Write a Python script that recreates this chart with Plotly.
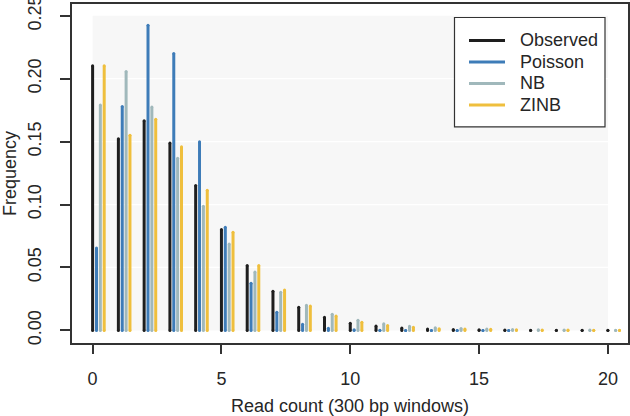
import plotly.graph_objects as go

counts = list(range(21))
observed = [0.2102, 0.1523, 0.1666, 0.1488, 0.1152, 0.0801, 0.0515, 0.0311, 0.0184, 0.0105,
            0.0057, 0.0035, 0.0020, 0.0012, 0.0008, 0.0005, 0.0003, 0.0002, 0.0001, 0.0001, 0.0001]
poisson = [0.0655, 0.1779, 0.2425, 0.2200, 0.1499, 0.0819, 0.0375, 0.0144, 0.0049, 0.0017,
           0.0005, 0.0001, 0.0, 0.0, 0.0, 0.0, 0.0, None, None, None, None]
nb = [0.1790, 0.2057, 0.1774, 0.1367, 0.0986, 0.0686, 0.0464, 0.0303, 0.0200, 0.0128,
      0.0081, 0.0052, 0.0033, 0.0022, 0.0016, 0.0012, 0.0008, 0.0005, 0.0004, 0.0003, 0.0002]
zinb = [0.2102, 0.1551, 0.1678, 0.1459, 0.1113, 0.0779, 0.0515, 0.0321, 0.0194, 0.0115,
        0.0065, 0.0040, 0.0025, 0.0014, 0.0012, 0.0009, 0.0006, 0.0004, 0.0003, 0.0002, 0.0002]

series_names = ["Observed", "Poisson", "NB", "ZINB"]
series_values = [observed, poisson, nb, zinb]
colors = ["#1e1e1e", "#3e7cb8", "#a0b8bb", "#efbf3d"]
offsets = [0.0, 0.15, 0.30, 0.45]

xticks = [0, 5, 10, 15, 20]
yticks = [0.0, 0.05, 0.10, 0.15, 0.20, 0.25]

fig = go.Figure()
for name, vals, col, off in zip(series_names, series_values, colors, offsets):
    xs, ys, mx, my = [], [], [], []
    for c, v in zip(counts, vals):
        if v is None:
            continue
        xs += [c + off, c + off, None]
        ys += [0, v, None]
        mx += [c + off, c + off]
        my += [0, v]
    fig.add_trace(go.Scatter(x=xs, y=ys, mode="lines", line=dict(color=col, width=3),
                             name=name, showlegend=False, hoverinfo="skip"))
    fig.add_trace(go.Scatter(x=mx, y=my, mode="markers", marker=dict(color=col, size=3, line=dict(width=0)),
                             showlegend=False, hoverinfo="skip"))

shapes = [dict(type="rect", xref="x", yref="y", x0=0, x1=20, y0=0, y1=0.25,
               fillcolor="#f7f7f7", line=dict(width=0), layer="below")]
for t in yticks[1:-1]:
    shapes.append(dict(type="line", xref="x", yref="y", x0=0, x1=20, y0=t, y1=t,
                       line=dict(color="white", width=1.2), layer="below"))

# legend box (paper coords)
W, H, L, T = 556.0, 339.3, 72.0, 4.0
def px(x):
    return (x - L) / W
def py(y):
    return (T + H - y) / H

shapes.append(dict(type="rect", xref="paper", yref="paper", x0=px(454.5), x1=px(605), y0=py(127), y1=py(17.5),
                   fillcolor="white", line=dict(color="#333333", width=1.2)))
annotations = []
rows = [40.5, 62, 83.5, 105]
for name, col, ry in zip(series_names, colors, rows):
    shapes.append(dict(type="line", xref="paper", yref="paper", x0=px(469), x1=px(505), y0=py(ry), y1=py(ry),
                       line=dict(color=col, width=3)))
    annotations.append(dict(xref="paper", yref="paper", x=px(518), y=py(ry), text=name, showarrow=False,
                            xanchor="left", yanchor="middle", font=dict(size=18, color="#262626")))

fig.update_layout(
    width=630, height=416,
    margin=dict(l=72, r=2, t=4, b=73, autoexpand=False),
    paper_bgcolor="white", plot_bgcolor="white",
    font=dict(family="Liberation Sans, Arial, sans-serif", size=18, color="#262626"),
    shapes=shapes, annotations=annotations, showlegend=False,
)
fig.update_xaxes(range=[-0.8, 20.78], tickvals=xticks, ticktext=[str(v) for v in xticks], automargin=False,
                 showgrid=False, zeroline=False, showline=True, mirror=True, linecolor="#333333", linewidth=1.5,
                 ticks="outside", ticklen=9, tickwidth=1.5, tickcolor="#333333", ticklabelstandoff=10,
                 ticklabeloverflow="allow",
                 title=dict(text="Read count (300 bp windows)", font=dict(size=18), standoff=12))
fig.update_yaxes(range=[-0.01, 0.2593], tickvals=yticks, ticktext=["%.2f" % v for v in yticks], automargin=False,
                 tickangle=-90, showgrid=False, zeroline=False, showline=True, mirror=True,
                 linecolor="#333333", linewidth=1.5, ticklabeloverflow="allow",
                 ticks="outside", ticklen=10, tickwidth=1.5, tickcolor="#333333", ticklabelstandoff=12,
                 title=dict(text="Frequency", font=dict(size=18), standoff=10))

fig.write_html("out.html", config={"displayModeBar": False},
               post_script="document.body.style.margin='0';document.body.style.padding='0';")
